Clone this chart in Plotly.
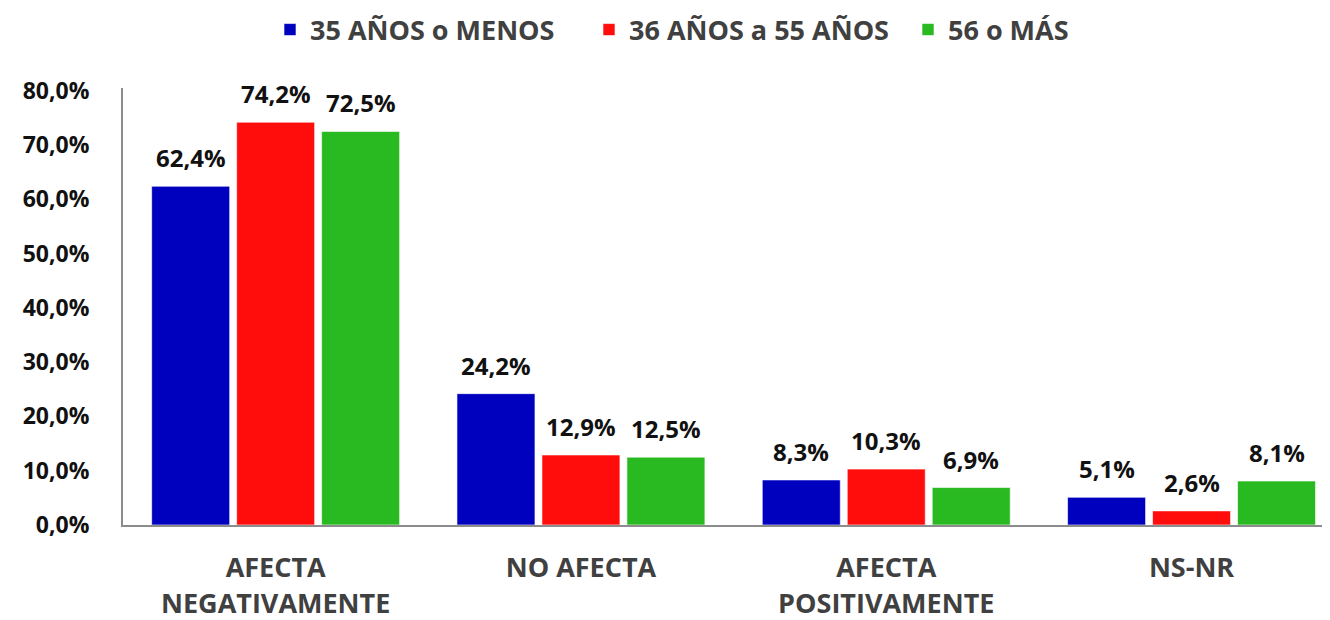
import plotly.graph_objects as go

categories = ["AFECTA<br>NEGATIVAMENTE", "NO AFECTA", "AFECTA<br>POSITIVAMENTE", "NS-NR"]
series_names = ["35 AÑOS o MENOS", "36 AÑOS a 55 AÑOS", "56 o MÁS"]
vals_35 = [62.4, 24.2, 8.3, 5.1]
vals_36_55 = [74.2, 12.9, 10.3, 2.6]
vals_56 = [72.5, 12.5, 6.9, 8.1]
colors = ["#0000BF", "#FF0D0D", "#28BA20"]
tick_vals = [0, 10, 20, 30, 40, 50, 60, 70, 80]
tick_text = [f"{v:.1f}%".replace(".", ",") for v in tick_vals]

FONT = "Open Sans"
W, H = 1330, 620
ML, MR, MT, MB = 115, 8, 80, 103
BARGAP, GROUPGAP = 0.165, 0.082
GROUP_PX = 305.3  # pixel width of one category

plot_w = W - ML - MR
x_max = -0.5 + plot_w / GROUP_PX
slot_px = GROUP_PX * (1 - BARGAP) / len(series_names)

fig = go.Figure()
all_vals = [vals_35, vals_36_55, vals_56]
for name, vals, col in zip(series_names, all_vals, colors):
    fig.add_trace(go.Bar(
        x=categories, y=vals, name=name,
        marker=dict(color=col, line=dict(color="rgba(255,255,255,0.6)", width=1)),
    ))

for i, vals in enumerate(all_vals):
    for cat, v in zip(categories, vals):
        fig.add_annotation(
            x=cat, y=v, xref="x", yref="y",
            text=f"{v:.1f}%".replace(".", ","),
            showarrow=False, xanchor="center", yanchor="bottom",
            xshift=(i - 1) * slot_px, yshift=10,
            font=dict(family=FONT, size=24, color="#111111", weight="bold"),
        )

fig.update_layout(
    width=W, height=H,
    barmode="group", bargap=BARGAP, bargroupgap=GROUPGAP,
    separators=",.",
    paper_bgcolor="white", plot_bgcolor="white",
    margin=dict(l=ML, r=MR, t=MT, b=MB),
    font=dict(family=FONT, color="#404040"),
    legend=dict(
        orientation="h", xref="container", yref="container",
        x=262 / W, xanchor="left", y=1 - 22 / H, yanchor="middle",
        font=dict(family=FONT, size=27, color="#404040", weight="bold"),
        itemwidth=30, entrywidth=274, entrywidthmode="pixels",
        traceorder="normal",
    ),
    xaxis=dict(
        range=[-0.5, x_max],
        showline=True, linecolor="#8C8C8C", linewidth=2,
        ticks="", showgrid=False, automargin=False,
        tickfont=dict(family=FONT, size=27, color="#404040", weight="bold"),
        ticklabelstandoff=18,
    ),
    yaxis=dict(
        range=[0, 80.5], tickvals=tick_vals, ticktext=tick_text,
        showline=True, linecolor="#8C8C8C", linewidth=2,
        showgrid=False, zeroline=False, ticks="", automargin=False,
        tickfont=dict(family=FONT, size=23, color="#111111", weight="bold"),
        ticklabelstandoff=27,
    ),
)

fig.write_html("out.html")
